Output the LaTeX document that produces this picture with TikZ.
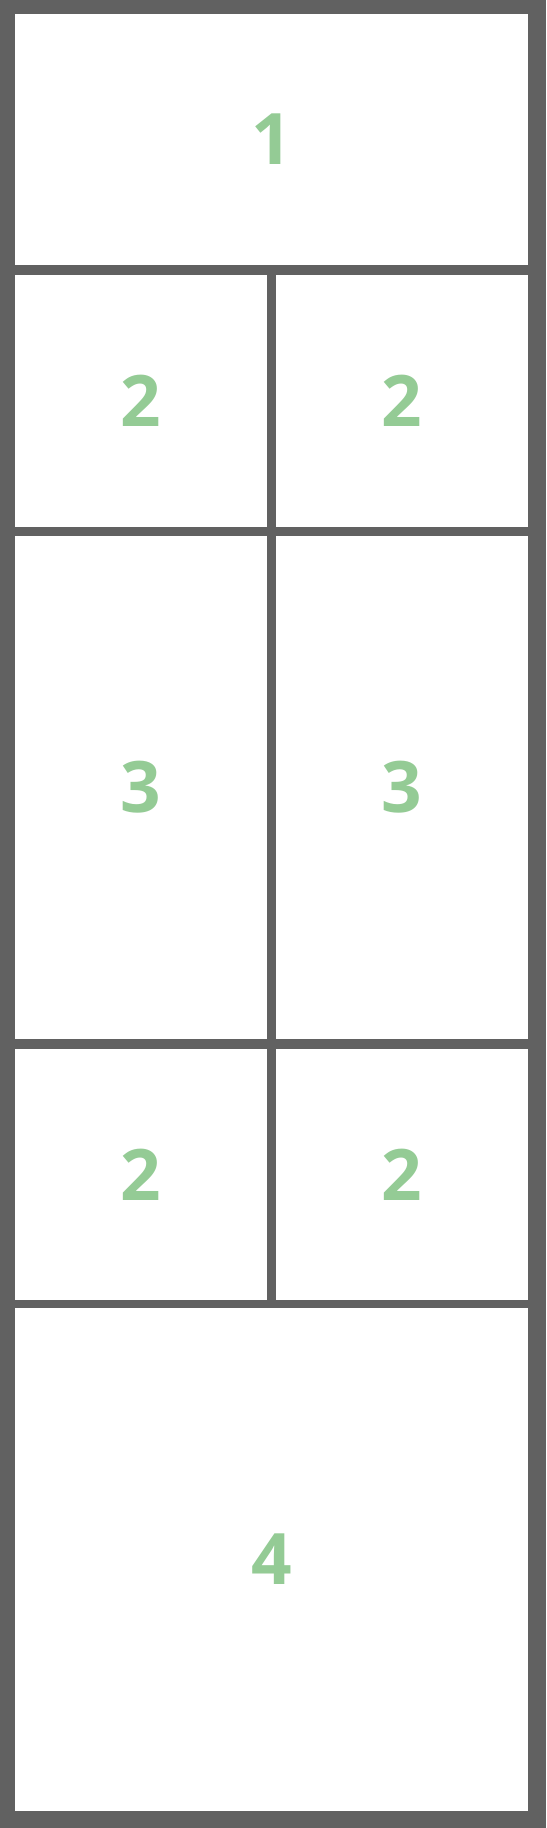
\documentclass[tikz,border=0pt]{standalone}
\usepackage{fontspec}
\setmainfont{Open Sans}[BoldFont={* Bold}]
\definecolor{framegrey}{HTML}{616161}
\definecolor{numgreen}{HTML}{94CB95}
\begin{document}
\begin{tikzpicture}[x=1pt,y=-1pt,
  cell/.style={fill=white, draw=none, inner sep=0pt, outer sep=0pt,
    font=\fontsize{71}{71}\selectfont\bfseries, text=numgreen}]
\fill[framegrey] (0,0) rectangle (546,1828);
\useasboundingbox (0,0) rectangle (546,1828);
\node[cell, minimum width=513pt, minimum height=251pt] (r1) at (271.5,139.5) {1};
\node[cell, minimum width=252pt, minimum height=252pt] (r2l) at (141,401) {2};
\node[cell, minimum width=252pt, minimum height=252pt] (r2r) at (402,401) {2};
\node[cell, minimum width=252pt, minimum height=503pt] (r3l) at (141,787.5) {3};
\node[cell, minimum width=252pt, minimum height=503pt] (r3r) at (402,787.5) {3};
\node[cell, minimum width=252pt, minimum height=251pt] (r4l) at (141,1174.5) {2};
\node[cell, minimum width=252pt, minimum height=251pt] (r4r) at (402,1174.5) {2};
\node[cell, minimum width=513pt, minimum height=503pt] (r5) at (271.5,1559.5) {4};
\end{tikzpicture}
\end{document}
